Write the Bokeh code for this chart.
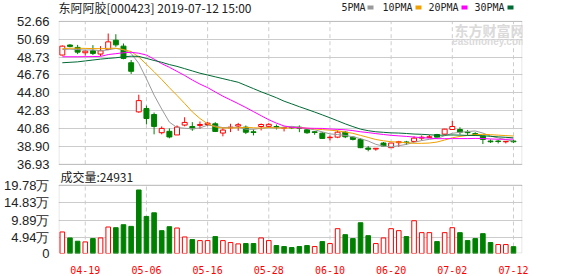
from bokeh.plotting import figure
from bokeh.models import (ColumnDataSource, Range1d, FixedTicker, Label, BoxAnnotation)
from bokeh.embed import file_html
from bokeh.resources import INLINE

# ---------------- data ----------------
dates = ["04-16", "04-17", "04-18", "04-19", "04-22", "04-23", "04-24", "04-25", "04-26", "04-29",
         "04-30", "05-06", "05-07", "05-08", "05-09", "05-10", "05-13", "05-14", "05-15", "05-16",
         "05-17", "05-20", "05-21", "05-22", "05-23", "05-24", "05-27", "05-28", "05-29", "05-30",
         "05-31", "06-03", "06-04", "06-05", "06-06", "06-10", "06-11", "06-12", "06-13", "06-14",
         "06-17", "06-18", "06-19", "06-20", "06-21", "06-24", "06-25", "06-26", "06-27", "06-28",
         "07-01", "07-02", "07-03", "07-04", "07-05", "07-08", "07-09", "07-10", "07-11", "07-12"]

opens = [48.95, 50.05, 49.79, 49.20, 49.42, 49.06, 49.57, 50.58, 49.93, 48.10,
         42.69, 43.06, 42.40, 40.40, 40.55, 40.15, 41.24, 41.08, 41.20, 41.30,
         41.38, 40.36, 40.94, 41.13, 41.01, 40.50, 41.08, 41.10, 41.08, 40.90,
         40.98, 41.00, 40.72, 40.50, 40.35, 39.85, 39.91, 40.46, 39.91, 39.66,
         38.71, 38.60, 39.26, 38.75, 39.30, 39.38, 39.44, 39.80, 39.88, 40.20,
         40.24, 40.75, 40.75, 40.46, 40.30, 40.02, 39.48, 39.48, 39.40, 39.48]
highs = [50.00, 50.15, 50.07, 49.45, 50.04, 49.93, 51.32, 51.24, 50.22, 48.40,
         44.58, 43.38, 42.62, 41.09, 40.87, 41.20, 42.10, 41.56, 41.63, 41.56,
         41.56, 40.90, 41.38, 41.48, 41.19, 40.76, 41.41, 41.45, 41.30, 41.04,
         41.10, 41.20, 40.83, 40.57, 40.46, 40.10, 40.64, 40.57, 40.00, 39.80,
         38.93, 38.71, 39.37, 39.26, 39.50, 39.50, 40.00, 40.10, 40.15, 40.27,
         40.82, 41.70, 41.00, 40.70, 40.45, 40.02, 39.66, 39.62, 39.48, 39.62]
lows = [48.90, 49.80, 49.05, 48.90, 48.95, 48.84, 49.50, 49.85, 48.48, 46.87,
        42.60, 41.31, 40.22, 40.22, 39.78, 40.15, 41.10, 40.61, 40.83, 41.12,
        40.47, 40.00, 40.47, 40.61, 40.25, 40.10, 40.65, 40.98, 40.75, 40.54,
        40.80, 40.46, 40.28, 40.17, 39.73, 39.55, 39.80, 39.80, 39.55, 38.70,
        38.35, 38.42, 38.90, 38.75, 38.85, 39.05, 39.44, 39.55, 39.80, 39.91,
        40.20, 40.75, 40.20, 40.10, 40.05, 39.15, 39.27, 39.22, 39.22, 39.27]
closes = [49.93, 49.90, 49.27, 49.38, 49.13, 49.42, 50.40, 50.07, 48.58, 47.16,
          43.93, 41.96, 41.09, 40.87, 39.93, 41.02, 41.53, 40.83, 41.30, 41.45,
          40.54, 40.69, 41.01, 41.28, 40.45, 40.42, 41.30, 41.32, 41.01, 40.98,
          40.93, 40.88, 40.39, 40.42, 39.77, 39.90, 40.46, 39.95, 39.66, 38.75,
          38.57, 38.68, 38.93, 39.26, 39.40, 39.30, 39.80, 39.90, 39.95, 39.91,
          40.79, 41.08, 40.46, 40.40, 40.20, 39.66, 39.40, 39.43, 39.45, 39.40]

ma5 = [49.55, 49.60, 49.55, 49.50, 49.52, 49.42, 49.52, 49.68, 49.52, 49.13,
       48.03, 46.34, 44.54, 43.00, 41.56, 40.97, 40.89, 40.84, 40.92, 41.23,
       41.13, 40.96, 41.00, 40.99, 40.79, 40.77, 40.89, 40.95, 40.91, 41.01,
       41.10, 41.02, 40.84, 40.72, 40.49, 40.27, 40.19, 40.10, 39.95, 39.74,
       39.48, 39.12, 38.92, 38.84, 38.97, 39.11, 39.34, 39.53, 39.67, 39.77,
       40.07, 40.33, 40.44, 40.53, 40.59, 40.36, 40.03, 39.82, 39.63, 39.47]
ma10 = [49.65, 49.70, 49.70, 49.68, 49.66, 49.65, 49.68, 49.70, 49.55, 49.33,
        48.73, 47.93, 47.11, 46.26, 45.35, 44.50, 43.62, 42.69, 41.96, 41.38,
        41.04, 40.91, 40.91, 40.94, 40.99, 40.94, 40.91, 40.96, 40.93, 40.90,
        40.93, 40.95, 40.89, 40.81, 40.74, 40.68, 40.60, 40.47, 40.33, 40.10,
        39.88, 39.65, 39.51, 39.40, 39.36, 39.30, 39.23, 39.23, 39.26, 39.37,
        39.59, 39.84, 39.99, 40.10, 40.18, 40.22, 40.18, 40.13, 40.08, 40.03]
ma20 = [48.76, 48.76, 48.76, 48.77, 48.78, 48.80, 49.00, 49.10, 49.20, 49.25,
        49.15, 48.95, 48.50, 48.00, 47.60, 47.15, 46.70, 46.20, 45.75, 45.36,
        44.89, 44.42, 44.01, 43.60, 43.17, 42.72, 42.27, 41.83, 41.45, 41.14,
        40.99, 40.93, 40.90, 40.88, 40.87, 40.81, 40.76, 40.72, 40.63, 40.50,
        40.41, 40.30, 40.20, 40.11, 40.05, 39.99, 39.92, 39.85, 39.80, 39.74,
        39.74, 39.75, 39.75, 39.75, 39.77, 39.76, 39.71, 39.68, 39.67, 39.70]
ma30 = [48.10, 48.15, 48.20, 48.30, 48.40, 48.50, 48.58, 48.65, 48.75, 48.82,
        48.80, 48.58, 48.35, 48.15, 47.90, 47.70, 47.45, 47.20, 46.95, 46.75,
        46.55, 46.35, 46.15, 45.95, 45.60, 45.25, 44.90, 44.58, 44.25, 43.87,
        43.57, 43.26, 42.97, 42.67, 42.36, 42.04, 41.71, 41.37, 41.07, 40.79,
        40.62, 40.50, 40.44, 40.38, 40.36, 40.31, 40.25, 40.22, 40.17, 40.12,
        40.13, 40.15, 40.13, 40.10, 40.09, 40.07, 40.00, 39.94, 39.89, 39.83]

# volume in 万 (10k lots)
volumes = [6.61, 4.94, 4.01, 3.82, 4.75, 4.94, 8.00, 7.81, 8.65, 8.18,
           18.39, 10.97, 11.99, 6.98, 8.09, 7.72, 5.21, 4.47, 4.19, 4.19,
           5.31, 4.19, 3.64, 3.27, 3.36, 3.36, 4.94, 4.19, 2.80, 2.52,
           2.24, 2.52, 2.80, 2.52, 3.91, 3.36, 7.53, 5.86, 4.75, 9.20,
           5.58, 3.36, 4.94, 7.53, 6.98, 5.31, 9.76, 6.42, 6.42, 3.91,
           6.42, 7.81, 6.42, 4.19, 4.75, 6.14, 3.64, 3.08, 3.08, 2.4931]

price_ticks = [36.93, 38.90, 40.86, 42.83, 44.80, 46.76, 48.73, 50.69, 52.66]
vol_ticks = [0.57, 4.94, 9.89, 14.83, 19.78]
vol_tick_labels = ["0", "4.94万", "9.89万", "14.83万", "19.78万"]
date_ticks = ["04-19", "05-06", "05-16", "05-28", "06-10", "06-20", "07-02", "07-12"]

stock_title = "东阿阿胶[000423] 2019-07-12 15:00"
ma_names = ["5PMA", "10PMA", "20PMA", "30PMA"]

# ---------------- styling / layout ----------------
RED = "#ff0000"
GREEN = "#008000"
MA_COLORS = ["#999999", "#f0a000", "#ff00ff", "#006a35"]
GRID = "#cccccc"
FRAME = "#999999"
TEXT = "#222222"

W, H = 578, 276
BORDER_L, BORDER_R, BORDER_B = 56, 56, 21
HEAD_PX, PRICE_PX, GAP_PX, VOL_PX = 21, 144, 21, 69
FRAME_PX = HEAD_PX + PRICE_PX + GAP_PX + VOL_PX
FRAME_W = W - BORDER_L - BORDER_R

n = len(dates)
xs = list(range(n))
tick_idx = [dates.index(d) for d in date_ticks]

cand_color = [RED if c >= o else GREEN for o, c in zip(opens, closes)]
cand_fill = ["white" if c >= o else GREEN for o, c in zip(opens, closes)]
vol_up = [closes[0] >= opens[0]] + [closes[i] >= closes[i - 1] for i in range(1, n)]
vol_color = [RED if u else GREEN for u in vol_up]
vol_fill = ["white" if u else GREEN for u in vol_up]

src = ColumnDataSource(dict(
    x=xs, high=highs, low=lows,
    top=[max(o, c) for o, c in zip(opens, closes)],
    bottom=[min(o, c) for o, c in zip(opens, closes)],
    color=cand_color, fill=cand_fill,
    ma5=ma5, ma10=ma10, ma20=ma20, ma30=ma30,
    vol=volumes, vcolor=vol_color, vfill=vol_fill,
))

x_start, x_end = -0.5, 60.18
dx = (x_end - x_start) / FRAME_W

p_lo, p_hi = price_ticks[0], price_ticks[-1]
p_px = (p_hi - p_lo) / PRICE_PX
y_end = p_hi + p_px * HEAD_PX
y_start = y_end - p_px * FRAME_PX
v_lo, v_hi = vol_ticks[0], vol_ticks[-1]
v_px = (v_hi - v_lo) / VOL_PX
v_end = v_lo + v_px * FRAME_PX


def vol_to_price(val):
    return y_start + (val - v_lo) / v_px * p_px


p = figure(width=W, height=H, x_range=Range1d(x_start, x_end),
           y_range=Range1d(y_start, y_end), output_backend="svg",
           toolbar_location=None, tools="",
           min_border_left=BORDER_L, min_border_right=BORDER_R,
           min_border_top=0, min_border_bottom=BORDER_B)
p.extra_y_ranges = {"vol": Range1d(v_lo, v_end)}
p.outline_line_color = None
p.background_fill_color = "white"
p.border_fill_color = "white"

# y axis: price ticks on top panel, volume ticks on bottom panel
axis_ticks = price_ticks + [vol_to_price(t) for t in vol_ticks]
axis_labels = ["%.2f" % t for t in price_ticks] + vol_tick_labels
p.yaxis.ticker = FixedTicker(ticks=axis_ticks)
p.yaxis.major_label_overrides = {t: s for t, s in zip(axis_ticks, axis_labels)}
p.yaxis.axis_line_color = None
p.yaxis.major_tick_line_color = None
p.yaxis.minor_tick_line_color = None
p.yaxis.major_label_text_font = "Liberation Sans"
p.yaxis.major_label_text_font_size = "13px"
p.yaxis.major_label_text_color = TEXT
p.yaxis.major_label_standoff = 3
p.ygrid.ticker = FixedTicker(ticks=axis_ticks)
p.ygrid.grid_line_color = GRID

p.xaxis.ticker = FixedTicker(ticks=tick_idx)
p.xaxis.major_label_overrides = {i: d for i, d in zip(tick_idx, date_ticks)}
p.xaxis.axis_line_color = None
p.xaxis.major_tick_line_color = None
p.xaxis.minor_tick_line_color = None
p.xaxis.major_label_text_font = "DejaVu Sans Mono"
p.xaxis.major_label_text_font_size = "10px"
p.xaxis.major_label_text_color = RED
p.xaxis.major_label_standoff = 6
p.xgrid.visible = False

k = len(tick_idx)
# dashed vertical grid lines, one set per panel
p.segment(x0=tick_idx, x1=tick_idx, y0=[p_lo] * k, y1=[p_hi] * k,
          line_color=GRID, line_dash="4 3", line_width=1)
p.segment(x0=tick_idx, x1=tick_idx, y0=[v_lo] * k, y1=[v_hi] * k,
          line_color=GRID, line_dash="4 3", line_width=1, y_range_name="vol")

# watermark
p.add_layout(Label(x=431, y=224, x_units="screen", y_units="screen", text="东方财富网",
                   text_font="Noto Sans CJK SC", text_font_size="14px", text_font_style="bold",
                   text_color="#dadada", text_align="center", text_baseline="middle"))
p.add_layout(Label(x=431, y=212.5, x_units="screen", y_units="screen", text="eastmoney.com",
                   text_font="Liberation Sans", text_font_size="10px", text_font_style="bold",
                   text_color="#dadada", text_align="center", text_baseline="middle"))

# candles
p.segment(x0="x", y0="low", x1="x", y1="high", color="color", line_width=1, source=src)
p.vbar(x="x", width=0.65, top="top", bottom="bottom", fill_color="fill",
       line_color="color", line_width=1, source=src)
for key, col in zip(["ma5", "ma10", "ma20", "ma30"], MA_COLORS):
    p.line(x="x", y=key, color=col, line_width=1, source=src)

# volume
p.vbar(x="x", width=0.6, top="vol", bottom=0, fill_color="vfill",
       line_color="vcolor", line_width=1, source=src, y_range_name="vol")

# panel borders
p.add_layout(BoxAnnotation(left=x_start + 0.5 * dx, right=x_end - 0.5 * dx,
                           bottom=p_lo, top=p_hi,
                           fill_color=None, line_color=FRAME, line_width=1))
p.add_layout(BoxAnnotation(left=x_start + 0.5 * dx, right=x_end - 0.5 * dx,
                           bottom=v_lo + 0.5 * v_px, top=v_hi, y_range_name="vol",
                           fill_color=None, line_color=FRAME, line_width=1))

# header: title and MA legend (screen units, relative to frame bottom-left)
head_y = FRAME_PX - 8.5
p.add_layout(Label(x=0, y=head_y, x_units="screen", y_units="screen", text=stock_title,
                   text_font="Noto Sans CJK SC", text_font_size="12px", text_color=TEXT,
                   text_baseline="middle"))
leg_text_x = [283, 324, 370, 416]
leg_box_x = [309, 357, 403, 449]
for name, col, tx, bx in zip(ma_names, MA_COLORS, leg_text_x, leg_box_x):
    p.add_layout(Label(x=tx, y=head_y, x_units="screen", y_units="screen", text=name,
                       text_font="DejaVu Sans Mono", text_font_size="10px",
                       text_color=TEXT, text_baseline="middle"))
    p.add_layout(BoxAnnotation(left=bx, right=bx + 6, bottom=head_y - 2.5, top=head_y + 1.5,
                               left_units="screen", right_units="screen",
                               bottom_units="screen", top_units="screen",
                               fill_color=col, fill_alpha=1, line_color=None))

# volume caption
p.add_layout(Label(x=2, y=VOL_PX + 8, x_units="screen", y_units="screen",
                   text="成交量:" + str(round(volumes[-1] * 10000)),
                   text_font="Noto Sans CJK SC", text_font_size="12px", text_color=TEXT,
                   text_baseline="middle"))

open("out.html", "w").write(file_html(p, INLINE))
